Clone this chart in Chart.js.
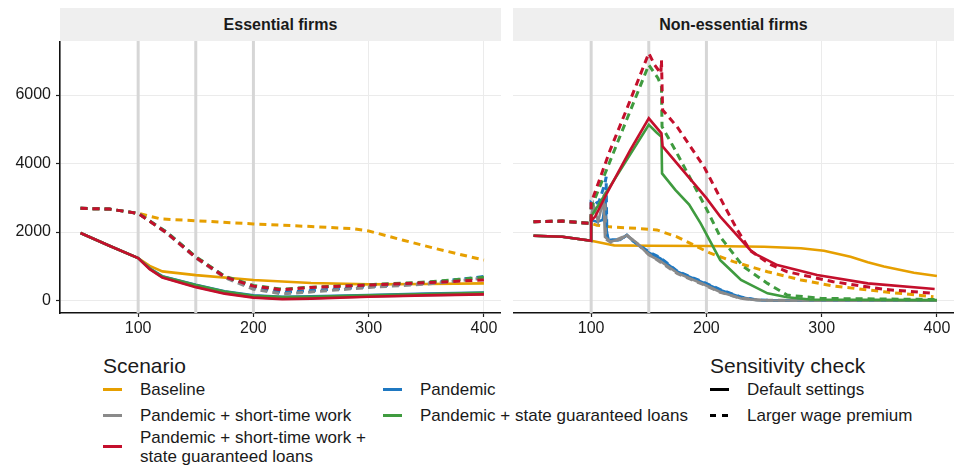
<!DOCTYPE html>
<html lang="en">
<head>
<meta charset="UTF-8">
<title>Essential vs non-essential firms</title>
<script src="https://cdn.jsdelivr.net/npm/chart.js@4.4.1/dist/chart.umd.min.js"></script>
<style>
    body {
        margin: 0;
        width: 954px;
        height: 466px;
        background: #fff;
        font-family: "Liberation Sans", Arial, sans-serif;
        position: relative;
        overflow: hidden;
    }
    .strip {
        position: absolute;
        top: 8px;
        height: 33px;
        line-height: 33px;
        background: #efefef;
        text-align: center;
        font-weight: bold;
        font-size: 16px;
        color: #1a1a1a;
    }
    .panel { position: absolute; top: 41px; }
    #legend { position: absolute; left: 0; top: 0; color: #1a1a1a; }
    .ltitle { position: absolute; font-size: 21px; white-space: nowrap; line-height: 24px; }
    .litem { position: absolute; font-size: 17px; white-space: nowrap; line-height: 19px; }
    .lkey { position: absolute; width: 19px; height: 3px; }
</style>
</head>
<body>
<div class="strip" style="left:60px;width:441px">Essential firms</div>
<div class="strip" style="left:513px;width:441px">Non-essential firms</div>
<div class="panel" style="left:0;width:501px;height:300px"><canvas id="essChart"></canvas></div>
<div class="panel" style="left:513px;width:441px;height:300px"><canvas id="nonChart"></canvas></div>
<div id="legend"></div>

<script>
    // axis setup
    const xTicks = [100, 200, 300, 400];
    const yTicks = [0, 2000, 4000, 6000];
    const policyDates = [100, 150, 200];

    const scenarios = ['Baseline', 'Pandemic', 'Pandemic + short-time work',
        'Pandemic + state guaranteed loans', 'Pandemic + short-time work + state guaranteed loans'];
    const scenarioColors = ['#E69F00', '#1F78C1', '#8A8A8A', '#3F9B3F', '#C40F2C'];
    const checks = ['Default settings', 'Larger wage premium'];

    // Essential firms, default settings  [time, value]
    const essBaselineDef = [[50,1970],[75,1600],[100,1240],[110,1010],[121,850],[150,740],[200,600],[250,510],[300,470],[350,480],[400,500]];
    const essPandemicDef = [[50,1970],[75,1600],[100,1240],[110,940],[121,710],[150,460],[175,270],[200,150],[225,110],[250,120],[300,160],[350,200],[400,235]];
    const essStwDef = [[50,1970],[75,1600],[100,1240],[110,920],[121,680],[150,400],[175,210],[200,95],[225,50],[250,65],[300,115],[350,155],[400,185]];
    const essLoansDef = [[50,1970],[75,1600],[100,1240],[110,935],[121,700],[150,450],[175,260],[200,140],[225,100],[250,110],[300,150],[350,190],[400,225]];
    const essStwLoansDef = [[50,1970],[75,1600],[100,1240],[110,915],[121,670],[150,390],[175,200],[200,85],[225,40],[250,55],[300,110],[350,150],[400,180]];

    // Essential firms, larger wage premium
    const essBaselineLwp = [[50,2690],[75,2670],[100,2545],[120,2380],[150,2330],[200,2235],[250,2160],[285,2100],[300,2030],[330,1760],[360,1500],[400,1180]];
    const essPandemicLwp = [[50,2690],[75,2670],[100,2545],[125,1990],[150,1270],[175,700],[200,380],[225,240],[250,290],[300,400],[350,510],[400,700]];
    const essStwLwp = [[50,2690],[75,2670],[100,2545],[125,1960],[150,1240],[175,670],[200,330],[225,190],[250,250],[300,380],[350,480],[400,650]];
    const essLoansLwp = [[50,2690],[75,2670],[100,2545],[125,1990],[150,1280],[175,710],[200,440],[225,330],[250,390],[300,460],[350,540],[400,680]];
    const essStwLoansLwp = [[50,2690],[75,2670],[100,2545],[125,1970],[150,1260],[175,690],[200,420],[225,310],[250,380],[300,450],[350,520],[400,600]];

    // Non-essential firms, default settings
    const nonBaselineDef = [[50,1890],[75,1860],[100,1745],[115,1640],[120,1610],[150,1600],[200,1590],[250,1570],[282,1525],[302,1455],[325,1280],[340,1120],[354,990],[380,810],[400,715]];
    const nonPandemicDef = [[50,1890],[75,1860],[100,1745],[100,2350],[105,2300],[110,2350],[112.5,2900],[113.6,1960],[115,1770],[125,1770],[131,1910],[137,1720],[150,1400],[160,1230],[175,840],[197,530],[212,305],[230,95],[244,15],[260,2],[400,0]];
    const nonStwDef = [[50,1890],[75,1860],[100,1745],[100,2450],[102,2790],[106,2300],[110.7,2935],[112,1860],[116.5,1720],[125,1780],[131,1910],[140,1670],[150,1330],[160,1150],[175,800],[197,480],[212,250],[230,60],[244,10],[260,0],[400,0]];
    const nonLoansDef = [[50,1890],[75,1860],[100,1745],[100,2450],[150,5130],[157,4900],[161,4780],[161.5,3710],[173,3230],[185,2800],[195,2250],[212,1180],[221,890],[230,600],[253,210],[270,95],[290,30],[400,10]];
    const nonStwLoansDef = [[50,1890],[75,1860],[100,1745],[100,2330],[103.5,2450],[113.6,3130],[134,4395],[150,5320],[161,4880],[162,4500],[200,2990],[212,2450],[238,1475],[244,1330],[261.5,1035],[296,745],[340,500],[398,335]];

    // Non-essential firms, larger wage premium
    const nonBaselineLwp = [[50,2300],[75,2320],[100,2250],[105,2200],[116.5,2150],[142.6,2100],[157,2060],[174.5,1860],[197.7,1475],[203.5,1380],[223.5,1135],[253,840],[282,600],[310,425],[354,255],[397,110]];
    const nonPandemicLwp = [[50,2300],[75,2320],[100,2250],[100,2850],[102,2790],[107,2900],[112,3420],[113,3610],[113.6,1960],[115,1770],[125,1770],[131,1910],[137,1720],[150,1420],[160,1250],[175,850],[197,540],[212,320],[230,100],[244,15],[260,0],[400,0]];
    const nonStwLwp = [[50,2300],[75,2320],[100,2250],[100,2900],[104,2600],[110,3000],[112,3100],[112.5,1800],[117,1700],[131,1900],[140,1650],[150,1350],[175,780],[197,470],[212,240],[230,60],[250,5],[400,0]];
    const nonLoansLwp = [[50,2300],[75,2320],[100,2250],[100,2700],[150,6880],[158,6490],[161,6240],[161.5,5075],[173,4390],[200.6,2640],[212,1860],[232,990],[253,500],[270,160],[300,60],[400,30]];
    const nonStwLoansLwp = [[50,2300],[75,2320],[100,2250],[100,2850],[116.5,4395],[131,5600],[150,7220],[155,6880],[160.5,6630],[161,7020],[162,5560],[174.5,5075],[198,3900],[215,2800],[227,2050],[238,1460],[255,1060],[270,840],[310,550],[354,325],[397,210]];

    const essSeries = [
        [essBaselineDef, essPandemicDef, essStwDef, essLoansDef, essStwLoansDef],
        [essBaselineLwp, essPandemicLwp, essStwLwp, essLoansLwp, essStwLoansLwp]
    ];
    const nonSeries = [
        [nonBaselineDef, nonPandemicDef, nonStwDef, nonLoansDef, nonStwLoansDef],
        [nonBaselineLwp, nonPandemicLwp, nonStwLwp, nonLoansLwp, nonStwLoansLwp]
    ];

    const vlinePlugin = {
        id: 'vlines',
        beforeDatasetsDraw(chart) {
            const ctx = chart.ctx, area = chart.chartArea, xs = chart.scales.x;
            ctx.save();
            ctx.strokeStyle = '#d6d6d6';
            ctx.lineWidth = 3;
            policyDates.forEach(d => {
                const px = xs.getPixelForValue(d);
                ctx.beginPath();
                ctx.moveTo(px, area.top);
                ctx.lineTo(px, area.bottom);
                ctx.stroke();
            });
            ctx.restore();
        }
    };

    function buildDatasets(series) {
        const out = [];
        // chart.js paints dataset 0 last, so go from the top layer down
        for (let s = scenarios.length - 1; s >= 0; s--) {
            for (let c = 1; c >= 0; c--) {
                out.push({
                    label: scenarios[s] + ' / ' + checks[c],
                    data: series[c][s].map(p => ({ x: p[0], y: p[1] })),
                    borderColor: scenarioColors[s],
                    borderWidth: c === 1 ? 3 : 2.6,
                    borderDash: c === 1 ? [7, 5] : [],
                    pointRadius: 0,
                    tension: 0,
                    fill: false
                });
            }
        }
        return out;
    }

    function makePanel(id, series, showY) {
        new Chart(document.getElementById(id), {
            type: 'line',
            data: { datasets: buildDatasets(series) },
            plugins: [vlinePlugin],
            options: {
                responsive: true,
                maintainAspectRatio: false,
                animation: false,
                events: [],
                layout: { padding: 0 },
                plugins: { legend: { display: false }, tooltip: { enabled: false } },
                scales: {
                    x: {
                        type: 'linear',
                        min: 32.2,
                        max: 414.8,
                        afterBuildTicks: ax => { ax.ticks = xTicks.map(v => ({ value: v })); },
                        afterFit: ax => { ax.height = 28; ax.paddingLeft = 0; ax.paddingRight = 0; },
                        grid: { color: '#ebebeb', lineWidth: 1, tickLength: 4, tickColor: '#222', tickWidth: 1.2 },
                        border: { display: true, color: '#111', width: 1.6 },
                        ticks: { color: '#1a1a1a', padding: 2, maxRotation: 0, font: { family: 'Liberation Sans', size: 16 },
                                 callback: v => String(v) }
                    },
                    y: {
                        type: 'linear',
                        min: -365,
                        max: 7577,
                        afterBuildTicks: ax => { ax.ticks = yTicks.map(v => ({ value: v })); },
                        afterFit: ax => { ax.width = showY ? 60 : 0; ax.paddingTop = 0; ax.paddingBottom = 0; },
                        grid: { color: '#ebebeb', lineWidth: 1, drawTicks: showY, tickLength: 4, tickColor: '#222', tickWidth: 1.2 },
                        border: { display: showY, color: '#111', width: 1.6 },
                        ticks: { display: showY, color: '#1a1a1a', padding: 5, font: { family: 'Liberation Sans', size: 16 },
                                 callback: v => String(v) }
                    }
                }
            }
        });
    }

    makePanel('essChart', essSeries, true);
    makePanel('nonChart', nonSeries, false);

    // legend, laid out like the ggplot guide (two scenario columns + linetype guide)
    const legend = document.getElementById('legend');
    function addTitle(text, x, y) {
        const d = document.createElement('div');
        d.className = 'ltitle';
        d.style.left = x + 'px'; d.style.top = (y - 12) + 'px';
        d.textContent = text;
        legend.appendChild(d);
    }
    function addItem(lines, x, y, color, dashed) {
        const k = document.createElement('div');
        k.className = 'lkey';
        k.style.left = x + 'px';
        k.style.top = (y + (lines.length - 1) * 9.5 - 1.5) + 'px';
        k.style.background = dashed
            ? 'repeating-linear-gradient(90deg,' + color + ' 0 6px, transparent 6px 12px)'
            : color;
        legend.appendChild(k);
        const t = document.createElement('div');
        t.className = 'litem';
        t.style.left = (x + 37) + 'px';
        t.style.top = (y - 9.5) + 'px';
        t.innerHTML = lines.join('<br>');
        legend.appendChild(t);
    }

    addTitle('Scenario', 103, 366);
    addItem([scenarios[0]], 103, 389, scenarioColors[0]);
    addItem([scenarios[2]], 103, 415, scenarioColors[2]);
    addItem(['Pandemic + short-time work +', 'state guaranteed loans'], 103, 437, scenarioColors[4]);
    addItem([scenarios[1]], 383, 389, scenarioColors[1]);
    addItem([scenarios[3]], 383, 415, scenarioColors[3]);
    addTitle('Sensitivity check', 710, 366);
    addItem([checks[0]], 710, 389, '#000');
    addItem([checks[1]], 710, 415, '#000', true);
</script>
</body>
</html>
